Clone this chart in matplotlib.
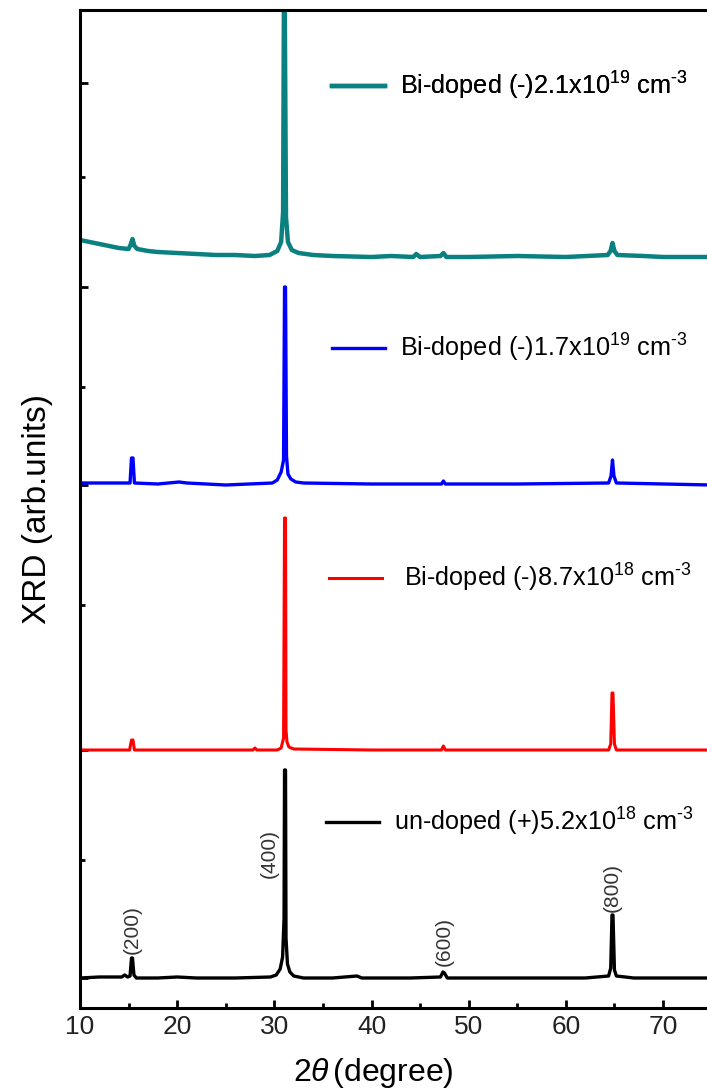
import matplotlib
matplotlib.use("Agg")
import matplotlib.pyplot as plt
import numpy as np

plt.rcParams['font.family'] = ['Liberation Sans', 'DejaVu Sans']
plt.rcParams['mathtext.fontset'] = 'custom'
plt.rcParams['mathtext.rm'] = 'Liberation Sans'
plt.rcParams['mathtext.it'] = 'Liberation Sans:italic'

# ---- data (2theta in degree, intensity in arb. units) ----
undoped_x = [10, 12, 14.3, 14.6, 14.9, 15.15, 15.3, 15.4, 15.55, 15.8, 18, 20, 22, 26, 29.6, 30.2,
             30.6, 30.85, 31.0, 31.05, 31.15, 31.2, 31.35, 31.6, 32.0, 33, 36, 38.5, 39, 44,
             47.1, 47.35, 47.5, 47.8, 55, 62, 64.4, 64.62, 64.75, 64.85, 65.0, 65.2, 67, 75]
undoped_y = [0, 1, 1, 3, 1, 2, 20, 20, 3, 0, 0, 1, 0, 0, 1, 3,
             9, 21, 60, 208, 208, 40, 14, 6, 2, 0, 0, 2, 0, 0,
             1, 6, 5, 0, 0, 0, 2, 10, 63, 63, 8, 2, 0, 0]

bi87_x = [10, 15.1, 15.3, 15.45, 15.6, 20, 27.8, 28.0, 28.2, 30.3, 30.7, 30.95, 31.05, 31.15, 31.2,
          31.3, 31.5, 32.0, 40, 47.2, 47.4, 47.6, 64.4, 64.62, 64.75, 64.85, 65.0, 65.2, 75]
bi87_y = [0, 0, 10, 10, 0, 0, 0, 2, 0, 0, 2, 12, 232, 232, 20,
          8, 3, 1, 0, 0, 4, 0, 0, 6, 57, 57, 6, 0, 0]

bi17_x = [10, 12, 15.15, 15.3, 15.45, 15.6, 18, 20.2, 21, 25, 29.8, 30.3, 30.7, 30.95, 31.05, 31.15,
          31.25, 31.4, 31.7, 32.2, 33, 40, 47.2, 47.4, 47.6, 55, 64.4, 64.65, 64.8, 64.95, 65.2, 75]
bi17_y = [1, 1, 1, 26, 26, 1, 0, 2, 1, -1, 1, 4, 12, 24, 197, 197,
          28, 10, 5, 2, 1, 0, 0, 3, 0, 0, 1, 8, 24, 8, 1, -1]

bi21_x = [10, 11, 12, 13, 14, 15.0, 15.2, 15.4, 15.6, 15.9, 17, 18, 20, 22, 24, 26, 28, 29.5, 30.3,
          30.7, 30.9, 31.0, 31.05, 31.2, 31.4, 31.8, 32.5, 34, 36, 40, 42, 44.3, 44.6, 45, 47.1,
          47.4, 47.7, 50, 55, 60, 64.3, 64.6, 64.8, 65.0, 65.3, 68, 70, 75]
bi21_y = [17, 15, 13, 11, 9, 8, 12, 18, 11, 8, 6, 5, 4, 3, 2, 2, 1, 2, 6,
          15, 45, 290, 290, 40, 15, 7, 4, 2, 1, 0, 1, 0, 3, 0, 1,
          4, 0, 0, 1, 0, 2, 6, 14, 6, 2, 1, 0, 0]

names = ['un-doped (+)5.2x10$^{18}$ cm$^{\\text{-}3}$',
         ' Bi-doped (-)8.7x10$^{18}$ cm$^{\\text{-}3}$',
         'Bi-doped (-)1.7x10$^{19}$ cm$^{\\text{-}3}$',
         'Bi-doped (-)2.1x10$^{19}$ cm$^{\\text{-}3}$']
series_x = [undoped_x, bi87_x, bi17_x, bi21_x]
series_y = [undoped_y, bi87_y, bi17_y, bi21_y]

peak_labels = ['(200)', '(400)', '(600)', '(800)']
peak_label_x = [15.35, 29.45, 47.46, 64.75]
peak_label_y = [78, 155, 66, 120]

# ---- styling ----
offsets = [30, 258, 524, 751]
colors = ['black', '#ff0000', '#0000ff', '#0b8080']
widths = [2.4, 2.2, 2.4, 3.2]
legend_y_px = [822, 578, 348, 86]
legend_x_px = [326, 329, 332, 332]

W, H = 707, 1091
fig = plt.figure(figsize=(W / 100, H / 100), dpi=100)
ax = fig.add_axes([80 / W, 83 / H, 631.6 / W, 998 / H])
ax.set_xlim(10, 75)
ax.set_ylim(0, 998)

for i in range(4):
    ln, = ax.plot(series_x[i], np.array(series_y[i]) + offsets[i], color=colors[i],
                  lw=widths[i], solid_joinstyle='round')
    leg = ax.legend([ln], [names[i]], loc='center left', frameon=False,
                    bbox_to_anchor=(legend_x_px[i] / W, 1 - legend_y_px[i] / H),
                    bbox_transform=fig.transFigure, fontsize=18.2, handlelength=2.1,
                    handletextpad=0.6, borderpad=0, borderaxespad=0)
    for t in leg.get_texts():
        t.set_color('black')
    ax.add_artist(leg)

for lab, px, py in zip(peak_labels, peak_label_x, peak_label_y):
    ax.text(px, py, lab, rotation=90, ha='center', va='center', fontsize=15,
            color='#333333')

for s in ['left', 'bottom', 'top', 'right']:
    ax.spines[s].set_linewidth(2.2)

ax.set_xticks([10, 20, 30, 40, 50, 60, 70])
ax.set_xticks([15, 25, 35, 45, 55, 65, 75], minor=True)
ax.set_yticks([30, 258, 523, 721, 925])
ax.set_yticks([148, 403, 621, 831], minor=True)
ax.set_yticklabels([])
ax.tick_params(which='both', direction='in', width=2, top=False, right=False)
ax.tick_params(which='major', length=6)
ax.tick_params(which='minor', length=3.5)
ax.tick_params(axis='x', labelsize=19, pad=5, labelcolor='#222222')

ax.set_xlabel(r'$2\theta\,$(degree)', fontsize=23)
ax.xaxis.set_label_coords(0.464, -0.048)
ax.set_ylabel('XRD (arb.units)', fontsize=24, labelpad=16)

fig.savefig('out.png', dpi=100)
